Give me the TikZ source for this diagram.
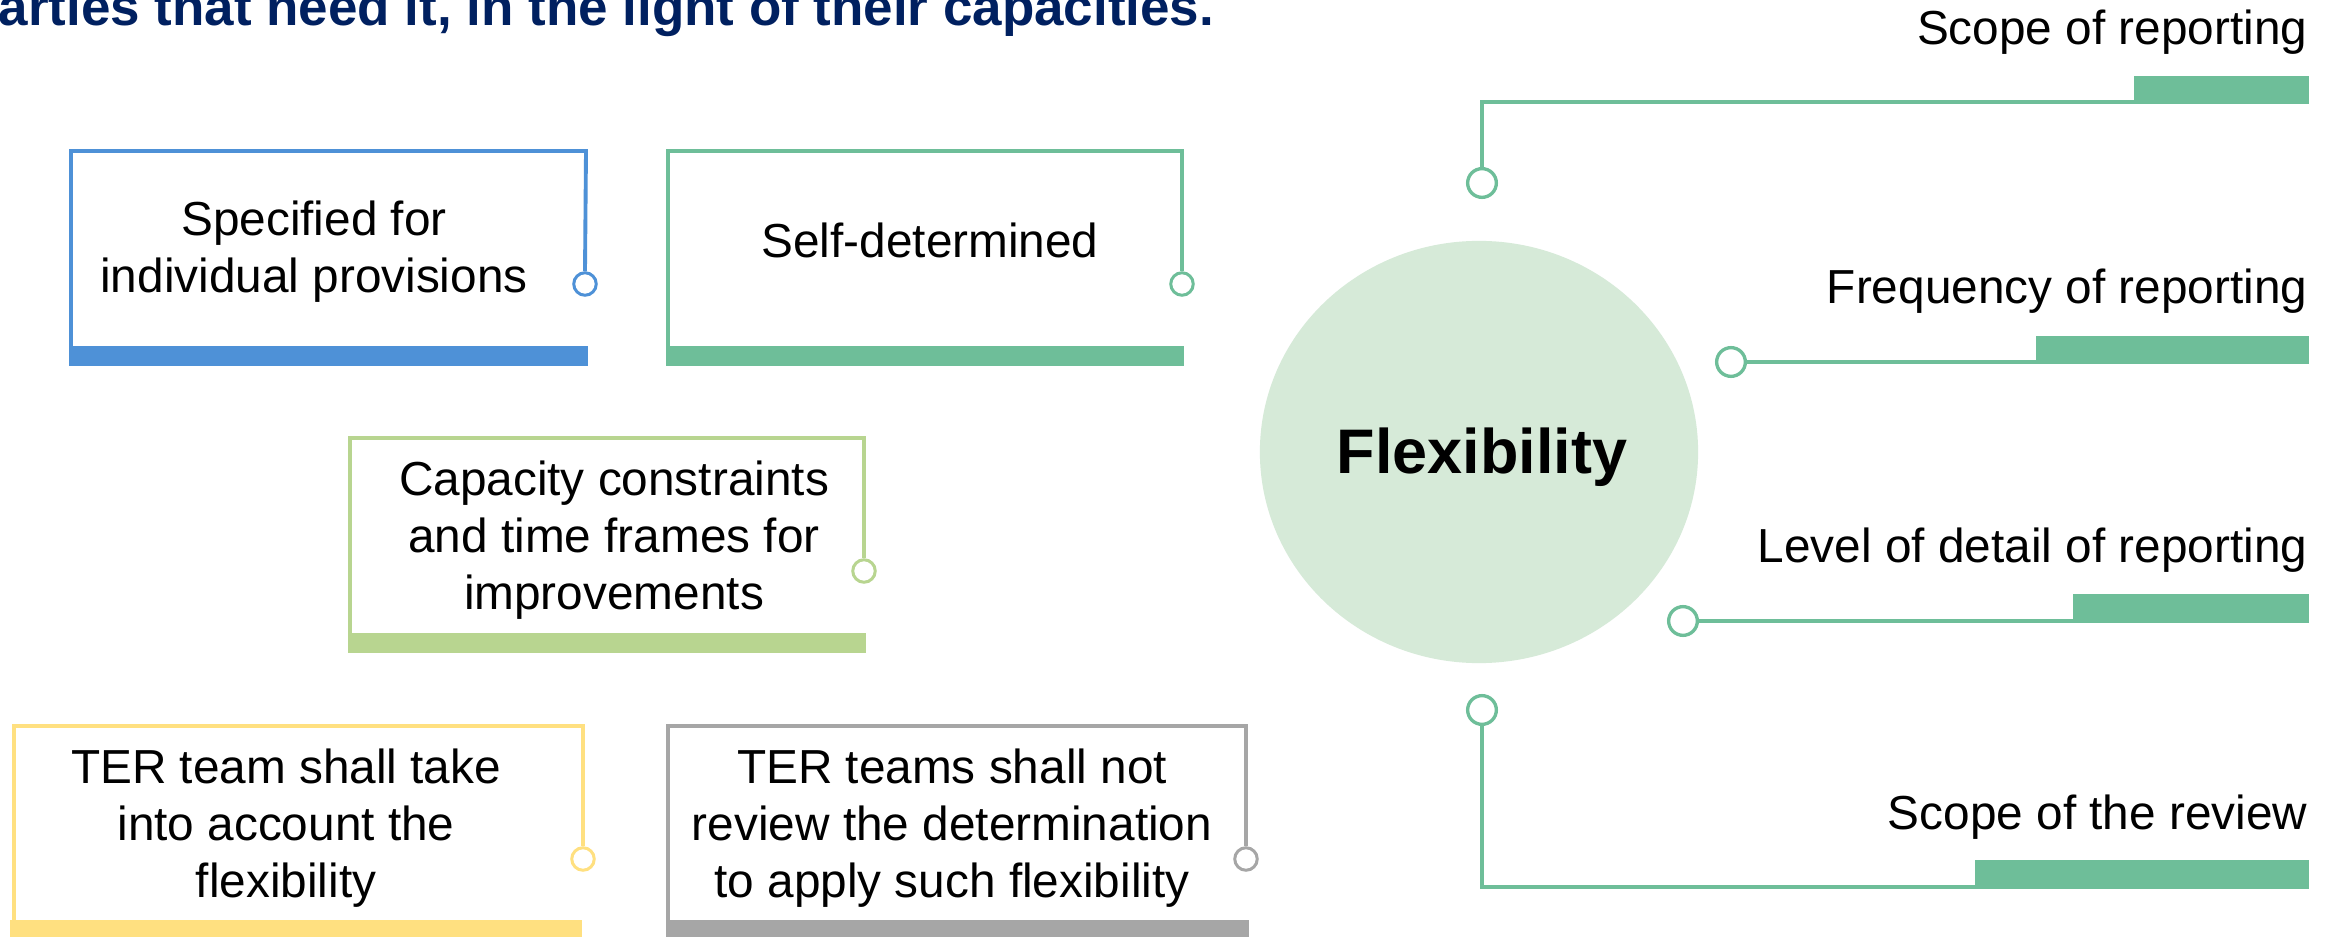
\documentclass[tikz,border=0pt]{standalone}
\usepackage{fontspec}
\setmainfont{Liberation Sans}
\usetikzlibrary{shapes.geometric}
\definecolor{cblue}{HTML}{4E91D7}
\definecolor{cgreen}{HTML}{6EBE99}
\definecolor{clgreen}{HTML}{B8D590}
\definecolor{cyellow}{HTML}{FFE080}
\definecolor{cgray}{HTML}{A6A6A6}
\definecolor{cfill}{HTML}{D6EAD8}
\definecolor{cnavy}{HTML}{002060}
\begin{document}
\begin{tikzpicture}[x=0.01cm,y=-0.01cm,
  bw/.style={line width=1.1pt},
  txt/.style={font=\fontsize{13.58pt}{16.35pt}\selectfont, inner sep=0pt, align=center},
  rtxt/.style={font=\fontsize{13.58pt}{16.35pt}\selectfont, inner sep=0pt, anchor=base east},
  ldot/.style={circle, draw, fill=white, line width=0.85pt, minimum size=0.225cm, inner sep=0pt},
  rdot/.style={circle, draw, fill=white, line width=0.95pt, minimum size=0.287cm, inner sep=0pt},
  conn/.style={line width=1pt, cgreen}]
\clip (0,0) rectangle (2341,937);
\fill[white] (0,0) rectangle (2341,937);

% title
\node[anchor=base west, inner sep=0pt, font=\fontsize{15.06pt}{18pt}\selectfont\bfseries, text=cnavy] (title) at (-2,26) {arties that need it, in the light of their capacities.};

% box 1
\fill[cblue] (69,346) rectangle (588,366);
\node[ldot, draw=cblue] (d1) at (585,284) {};
\draw[bw, cblue] (71,346) -- (71,151) -- (586,151) -- (d1.north);
\node[txt, anchor=base] (t1) at (314,293) {Specified for\\individual provisions};

% box 2
\fill[cgreen] (666,346) rectangle (1184,366);
\node[ldot, draw=cgreen] (d2) at (1182,284) {};
\draw[bw, cgreen] (668,346) -- (668,151) -- (1182,151) -- (d2.north);
\node[txt, anchor=base] (t2) at (930,258) {Self-determined};

% box 3
\fill[clgreen] (348,633) rectangle (866,653);
\node[ldot, draw=clgreen] (d3) at (864,571) {};
\draw[bw, clgreen] (350,633) -- (350,438) -- (864,438) -- (d3.north);
\node[txt, anchor=base] (t3) at (614,610) {Capacity constraints\\and time frames for\\improvements};

% box 4
\fill[cyellow] (10,920) rectangle (582,940);
\node[ldot, draw=cyellow] (d4) at (583,859) {};
\draw[bw, cyellow] (14,920) -- (14,726) -- (583,726) -- (d4.north);
\node[txt, anchor=base] (t4) at (286,898) {TER team shall take\\into account the\\flexibility};

% box 5
\fill[cgray] (666,920) rectangle (1249,940);
\node[ldot, draw=cgray] (d5) at (1246,859) {};
\draw[bw, cgray] (668,920) -- (668,726) -- (1246,726) -- (d5.north);
\node[txt, anchor=base] (t5) at (952,898) {TER teams shall not\\review the determination\\to apply such flexibility};

% central circle
\node[ellipse, fill=cfill, minimum width=4.38cm, minimum height=4.22cm, inner sep=0pt] (flex) at (1479,452) {};
\node[anchor=base, inner sep=0pt, font=\fontsize{17.9pt}{21pt}\selectfont\bfseries] (flext) at (1482,474) {Flexibility};

% right branches
\fill[cgreen] (2134,76) rectangle (2309,104);
\coordinate (b1) at (2134,102);
\node[rdot, draw=cgreen] (r1) at (1482,183) {};
\draw[conn] (r1.north) |- (b1);
\node[rtxt] (s1) at (2308,45) {Scope of reporting};

\fill[cgreen] (2036,336) rectangle (2309,364);
\coordinate (b2) at (2036,362);
\node[rdot, draw=cgreen] (r2) at (1731,362) {};
\draw[conn] (r2.east) -- (b2);
\node[rtxt] (s2) at (2308,304) {Frequency of reporting};

\fill[cgreen] (2073,594) rectangle (2309,623);
\coordinate (b3) at (2073,621);
\node[rdot, draw=cgreen] (r3) at (1683,621) {};
\draw[conn] (r3.east) -- (b3);
\node[rtxt] (s3) at (2308,563) {Level of detail of reporting};

\fill[cgreen] (1975,860) rectangle (2309,889);
\coordinate (b4) at (1975,887);
\node[rdot, draw=cgreen] (r4) at (1482,710) {};
\draw[conn] (r4.south) |- (b4);
\node[rtxt] (s4) at (2308,830) {Scope of the review};
\end{tikzpicture}
\end{document}
